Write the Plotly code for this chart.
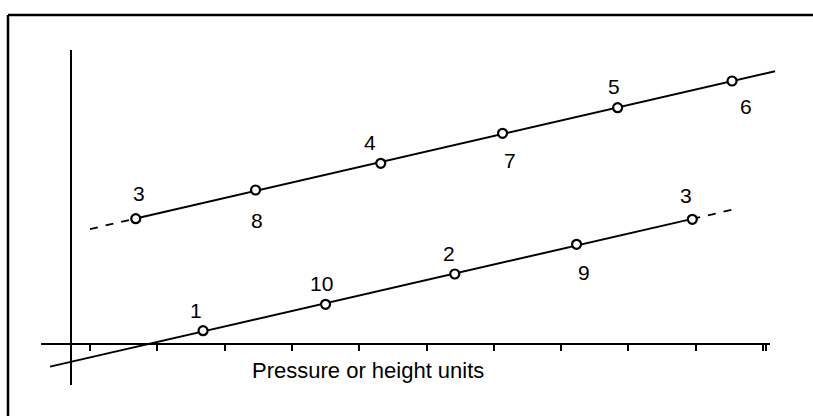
import numpy as np
import plotly.graph_objects as go

# Horizontal position (pressure / height units) and vertical value of each observation
upper_x = [0.68, 2.46, 4.32, 6.13, 7.84, 9.54]
upper_y = [1.862, 2.288, 2.685, 3.131, 3.511, 3.908]
upper_labels = ["3", "8", "4", "7", "5", "6"]

lower_x = [1.68, 3.50, 5.42, 7.23, 8.95]
lower_y = [0.198, 0.590, 1.040, 1.481, 1.853]
lower_labels = ["1", "10", "2", "9", "3"]

# Extent of each fitted line: solid part and dashed extrapolation
upper_solid = [0.68, 10.18]
upper_dashed = [0.0, 0.68]
lower_solid = [-0.594, 8.95]
lower_dashed = [8.95, 9.60]

tick_values = [0, 1, 2, 3, 4, 5, 6, 7, 8, 9, 10, 10.05]
axis_title = "Pressure or height units"

# Label placement (pixel offsets from the marker)
upper_dx = [3, 1, -11, 7, -4, 14]
upper_dy = [25, -30, 21, -27, 21, -26]
lower_dx = [-7, -4, -6, 7, -6]
lower_dy = [20, 21, 21, -28, 24]

W, H = 813, 416
PX = 67.3          # pixels per unit on both axes
X0_PX, Y0_PX = 90, 344

x_range = [-X0_PX / PX, (W - X0_PX) / PX]
y_range = [(Y0_PX - H) / PX, Y0_PX / PX]

fig = go.Figure()


def add_fit(xs, ys, solid, dashed):
    slope, icpt = np.polyfit(xs, ys, 1)
    sx = np.array(solid)
    dx = np.array(dashed)
    fig.add_trace(go.Scatter(x=sx, y=slope * sx + icpt, mode="lines",
                             line=dict(color="black", width=2),
                             hoverinfo="skip", showlegend=False))
    fig.add_trace(go.Scatter(x=dx, y=slope * dx + icpt, mode="lines",
                             line=dict(color="black", width=1.8, dash="8px,8px"),
                             hoverinfo="skip", showlegend=False))


add_fit(upper_x, upper_y, upper_solid, upper_dashed)
add_fit(lower_x, lower_y, lower_solid, lower_dashed)

for xs, ys in ((upper_x, upper_y), (lower_x, lower_y)):
    fig.add_trace(go.Scatter(x=xs, y=ys, mode="markers",
                             marker=dict(symbol="circle", size=9, color="white",
                                         line=dict(color="black", width=2.2)),
                             showlegend=False))

annotations = []
for xs, ys, labs, dxs, dys in ((upper_x, upper_y, upper_labels, upper_dx, upper_dy),
                               (lower_x, lower_y, lower_labels, lower_dx, lower_dy)):
    for x, y, t, ddx, ddy in zip(xs, ys, labs, dxs, dys):
        annotations.append(dict(x=x, y=y, text=t, showarrow=False,
                                xshift=ddx, yshift=ddy,
                                xanchor="center", yanchor="middle",
                                font=dict(family="Liberation Sans, Arial", size=21,
                                          color="black")))

annotations.append(dict(x=(368 - X0_PX) / PX, y=(Y0_PX - 370) / PX, text=axis_title,
                        showarrow=False, xanchor="center", yanchor="middle",
                        font=dict(family="Liberation Sans, Arial", size=22,
                                  color="black")))

shapes = [
    # horizontal axis line
    dict(type="line", x0=(41 - X0_PX) / PX, x1=(770 - X0_PX) / PX, y0=0, y1=0,
         line=dict(color="black", width=2)),
    # vertical axis line
    dict(type="line", x0=(71 - X0_PX) / PX, x1=(71 - X0_PX) / PX,
         y0=(Y0_PX - 385) / PX, y1=(Y0_PX - 50) / PX,
         line=dict(color="black", width=2)),
    # outer frame: top and left edges
    dict(type="line", xref="paper", yref="paper",
         x0=8 / W, x1=1.0, y0=1 - 15 / H, y1=1 - 15 / H,
         line=dict(color="black", width=2.5)),
    dict(type="line", xref="paper", yref="paper",
         x0=8 / W, x1=8 / W, y0=0.0, y1=1 - 15 / H,
         line=dict(color="black", width=2.5)),
]

fig.update_layout(
    width=W, height=H,
    margin=dict(l=0, r=0, t=0, b=0),
    paper_bgcolor="white", plot_bgcolor="white",
    xaxis=dict(range=x_range, showgrid=False, zeroline=False, showline=False,
               anchor="free", position=(H - Y0_PX) / H,
               tickmode="array", tickvals=tick_values, ticks="outside",
               ticklen=6, tickwidth=2, tickcolor="black", showticklabels=False),
    yaxis=dict(range=y_range, showgrid=False, zeroline=False, showline=False,
               showticklabels=False, ticks=""),
    annotations=annotations,
    shapes=shapes,
)

fig.write_html("out.html")
